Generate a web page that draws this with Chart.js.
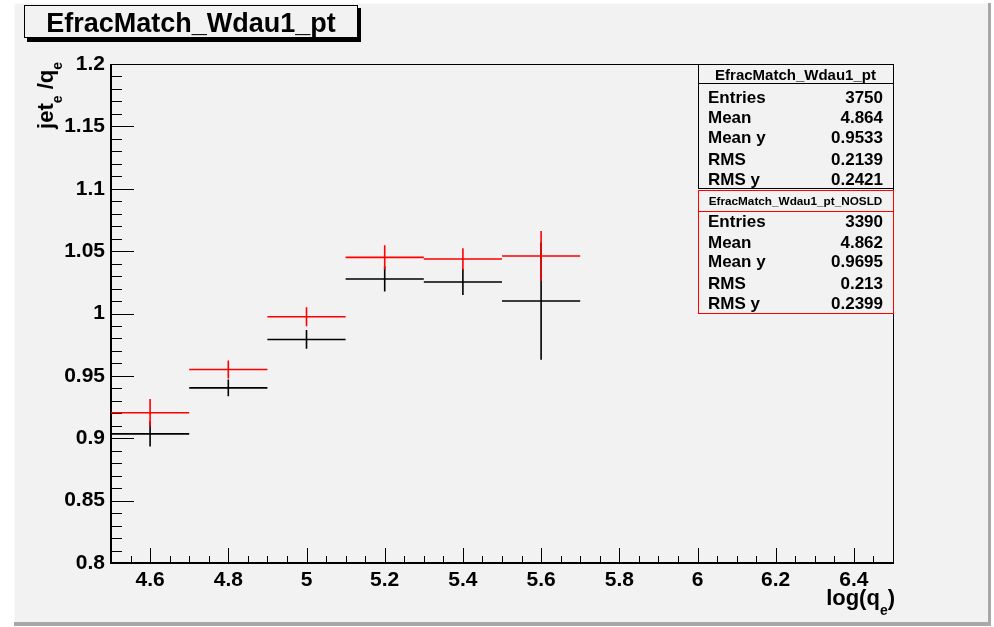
<!DOCTYPE html>
<html>
<head>
<meta charset="utf-8">
<script src="https://cdn.jsdelivr.net/npm/chart.js@4.4.1/dist/chart.umd.min.js"></script>
<style>
  html, body { margin: 0; padding: 0; background: #fff; }
  canvas { display: block; }
</style>
</head>
<body>
<canvas id="EfracMatch_Wdau1_pt" width="994" height="627"></canvas>
<script>
// profile bins (log(q_e)), width 0.2
const binCenters = [4.6, 4.8, 5.0, 5.2, 5.4, 5.6];
const binWidths = [0.2, 0.2, 0.2, 0.2, 0.2, 0.2];
// EfracMatch_Wdau1_pt (black)
const allMean = [0.9035, 0.9404, 0.9792, 1.0277, 1.0253, 1.0100];
const allErr = [0.0102, 0.0067, 0.0075, 0.0100, 0.0105, 0.0470];
// EfracMatch_Wdau1_pt_NOSLD (red)
const noSldMean = [0.9204, 0.9551, 0.9974, 1.0450, 1.0437, 1.0461];
const noSldErr = [0.0110, 0.0073, 0.0076, 0.0097, 0.0087, 0.0200];

const xTicks = [4.6, 4.8, 5.0, 5.2, 5.4, 5.6, 5.8, 6.0, 6.2, 6.4];
const statLabels = ['Entries', 'Mean', 'Mean y', 'RMS', 'RMS y'];
const allStats = ['3750', '4.864', '0.9533', '0.2139', '0.2421'];
const noSldStats = ['3390', '4.862', '0.9695', '0.213', '0.2399'];

const FAM = '"Liberation Sans", Arial, Helvetica, sans-serif';
function bold(size) { return 'bold ' + size + 'px ' + FAM; }

function toPoints(means) {
  return binCenters.map(function (x, i) { return { x: x, y: means[i] }; });
}

// grey ROOT pad behind everything
const padPlugin = {
  id: 'pad',
  beforeDraw: function (chart) {
    const c = chart.ctx;
    c.save();
    c.fillStyle = '#ffffff';
    c.fillRect(0, 0, chart.width, chart.height);
    c.fillStyle = '#a8a8a8';
    c.fillRect(14, 3, 977, 623);
    c.fillStyle = '#f2f2f2';
    c.fillRect(14, 3, 974, 619);
    c.fillStyle = '#fafafa';
    c.fillRect(14, 3, 974, 1);
    c.fillRect(14, 3, 1, 619);
    c.restore();
  }
};

// frame and inward ticks
const framePlugin = {
  id: 'frame',
  beforeDatasetsDraw: function (chart) {
    const c = chart.ctx, a = chart.chartArea;
    const xs = chart.scales.x, ys = chart.scales.y;
    c.save();
    c.strokeStyle = '#000';
    c.lineWidth = 1;
    c.beginPath();
    for (let i = 0; i <= 40; i++) {
      const v = ys.min + i * 0.01;
      const py = Math.round(ys.getPixelForValue(v)) + 0.5;
      const len = (i % 5 === 0) ? 23 : 11;
      c.moveTo(a.left, py);
      c.lineTo(a.left + len, py);
    }
    for (let i = 0; i <= 40; i++) {
      const v = xs.min + i * 0.05;
      const px = Math.round(xs.getPixelForValue(v)) + 0.5;
      const len = (i % 4 === 2) ? 15 : 7;
      c.moveTo(px, a.bottom);
      c.lineTo(px, a.bottom - len);
    }
    c.stroke();
    c.lineWidth = 1;
    c.strokeRect(a.left + 0.5, a.top + 0.5, a.right - a.left, a.bottom - a.top);
    c.lineWidth = 2;
    c.beginPath();
    c.moveTo(a.left, a.top);
    c.lineTo(a.left, a.bottom);
    c.lineTo(a.right, a.bottom);
    c.stroke();
    c.restore();
  }
};

// error crosses: horizontal = bin width, vertical = error on the mean
const crossPlugin = {
  id: 'crosses',
  afterDatasetsDraw: function (chart) {
    const c = chart.ctx;
    const xs = chart.scales.x, ys = chart.scales.y;
    c.save();
    c.beginPath();
    c.rect(chart.chartArea.left, chart.chartArea.top,
      chart.chartArea.right - chart.chartArea.left, chart.chartArea.bottom - chart.chartArea.top);
    c.clip();
    chart.data.datasets.forEach(function (ds) {
      c.strokeStyle = ds.borderColor;
      c.lineWidth = 1.6;
      c.beginPath();
      ds.data.forEach(function (p, i) {
        const half = binWidths[i] / 2;
        const py = ys.getPixelForValue(p.y);
        const px = xs.getPixelForValue(p.x);
        c.moveTo(xs.getPixelForValue(p.x - half), py);
        c.lineTo(xs.getPixelForValue(p.x + half), py);
        c.moveTo(px, ys.getPixelForValue(p.y + ds.err[i]));
        c.lineTo(px, ys.getPixelForValue(p.y - ds.err[i]));
      });
      c.stroke();
    });
    c.restore();
  }
};

function fitFont(c, text, width, maxSize) {
  let s = maxSize;
  c.font = bold(s);
  while (s > 6 && c.measureText(text).width > width) {
    s -= 0.25;
    c.font = bold(s);
  }
  return s;
}

function drawPieces(c, pieces, startX, baseY) {
  let x = startX;
  pieces.forEach(function (p) {
    c.font = bold(p.size);
    c.fillText(p.text, x, baseY + p.dy);
    x += c.measureText(p.text).width;
  });
}
function piecesWidth(c, pieces) {
  let w = 0;
  pieces.forEach(function (p) { c.font = bold(p.size); w += c.measureText(p.text).width; });
  return w;
}

function statBox(c, color, top, bottom, sep, title, titleBase, titleW, titleMax, values, bases) {
  c.fillStyle = '#f2f2f2';
  c.fillRect(698, top, 195, bottom - top);
  c.strokeStyle = color;
  c.lineWidth = 1;
  c.strokeRect(698.5, top + 0.5, 195, bottom - top);
  c.beginPath();
  c.moveTo(698, sep + 0.5);
  c.lineTo(893, sep + 0.5);
  c.stroke();
  c.fillStyle = '#000';
  c.textAlign = 'center';
  c.textBaseline = 'alphabetic';
  fitFont(c, title, titleW, titleMax);
  c.fillText(title, 795.5, titleBase);
  c.font = bold(17);
  statLabels.forEach(function (lab, i) {
    c.textAlign = 'left';
    c.fillText(lab, 708, bases[i]);
    c.textAlign = 'right';
    c.fillText(values[i], 883, bases[i]);
  });
}

const textPlugin = {
  id: 'texts',
  afterDraw: function (chart) {
    const c = chart.ctx;
    c.save();
    // title box
    c.fillStyle = '#000';
    c.fillRect(27, 8, 334, 34);
    c.fillStyle = '#f2f2f2';
    c.fillRect(24, 5, 334, 33);
    c.strokeStyle = '#000';
    c.lineWidth = 1;
    c.strokeRect(24.5, 5.5, 333, 32);
    c.fillStyle = '#000';
    c.textAlign = 'center';
    c.textBaseline = 'alphabetic';
    fitFont(c, 'EfracMatch_Wdau1_pt', 291, 27);
    c.fillText('EfracMatch_Wdau1_pt', 191, 32);

    // stats boxes
    statBox(c, '#000', 64, 188, 83, 'EfracMatch_Wdau1_pt', 80, 176, 15,
      allStats, [103, 123, 143, 165, 185]);
    statBox(c, '#ff0000', 190, 313, 211, 'EfracMatch_Wdau1_pt_NOSLD', 204.5, 176, 12,
      noSldStats, [227, 248, 267, 289, 309]);

    // axis titles
    c.fillStyle = '#000';
    c.textAlign = 'left';
    const xt = [
      { text: 'log(q', size: 22, dy: 0 },
      { text: 'e', size: 14, dy: 10 },
      { text: ')', size: 22, dy: 0 }
    ];
    drawPieces(c, xt, 895 - piecesWidth(c, xt), 605);

    const yt = [
      { text: 'jet', size: 22, dy: 0 },
      { text: 'e', size: 14, dy: 9 },
      { text: ' /q', size: 22, dy: 0 },
      { text: 'e', size: 14, dy: 9 }
    ];
    c.translate(53, 62);
    c.rotate(-Math.PI / 2);
    drawPieces(c, yt, -piecesWidth(c, yt), 0);
    c.restore();
  }
};

function getData() {
  return {
    datasets: [{
      label: 'EfracMatch_Wdau1_pt',
      data: toPoints(allMean),
      err: allErr,
      borderColor: '#000000',
      backgroundColor: '#000000',
      showLine: false,
      pointRadius: 0
    }, {
      label: 'EfracMatch_Wdau1_pt_NOSLD',
      data: toPoints(noSldMean),
      err: noSldErr,
      borderColor: '#ff0000',
      backgroundColor: '#ff0000',
      showLine: false,
      pointRadius: 0
    }]
  };
}

function getOptions() {
  return {
    responsive: false,
    animation: false,
    events: [],
    layout: { padding: { top: 64, right: 101, bottom: 0, left: 0 } },
    plugins: { legend: { display: false }, tooltip: { enabled: false }, title: { display: false } },
    scales: {
      x: {
        type: 'linear',
        min: 4.5,
        max: 6.5,
        afterBuildTicks: function (s) { s.ticks = xTicks.map(function (v) { return { value: v }; }); },
        afterFit: function (s) { s.height = 64; },
        grid: { display: false, drawTicks: false },
        border: { display: false },
        ticks: {
          autoSkip: false,
          maxRotation: 0,
          padding: 5,
          color: '#000',
          font: { family: FAM, size: 21, weight: 'bold' },
          callback: function (v) { return String(+Number(v).toFixed(2)); }
        }
      },
      y: {
        type: 'linear',
        min: 0.8,
        max: 1.2,
        afterFit: function (s) { s.width = 111; },
        grid: { display: false, drawTicks: false },
        border: { display: false },
        ticks: {
          stepSize: 0.05,
          autoSkip: false,
          padding: 6,
          color: '#000',
          font: { family: FAM, size: 21, weight: 'bold' },
          callback: function (v) { return String(+Number(v).toFixed(2)); }
        }
      }
    }
  };
}

var profileChart = new Chart(
  document.getElementById('EfracMatch_Wdau1_pt'),
  {
    type: 'scatter',
    data: getData(),
    options: getOptions(),
    plugins: [padPlugin, framePlugin, crossPlugin, textPlugin]
  }
);
</script>
</body>
</html>
